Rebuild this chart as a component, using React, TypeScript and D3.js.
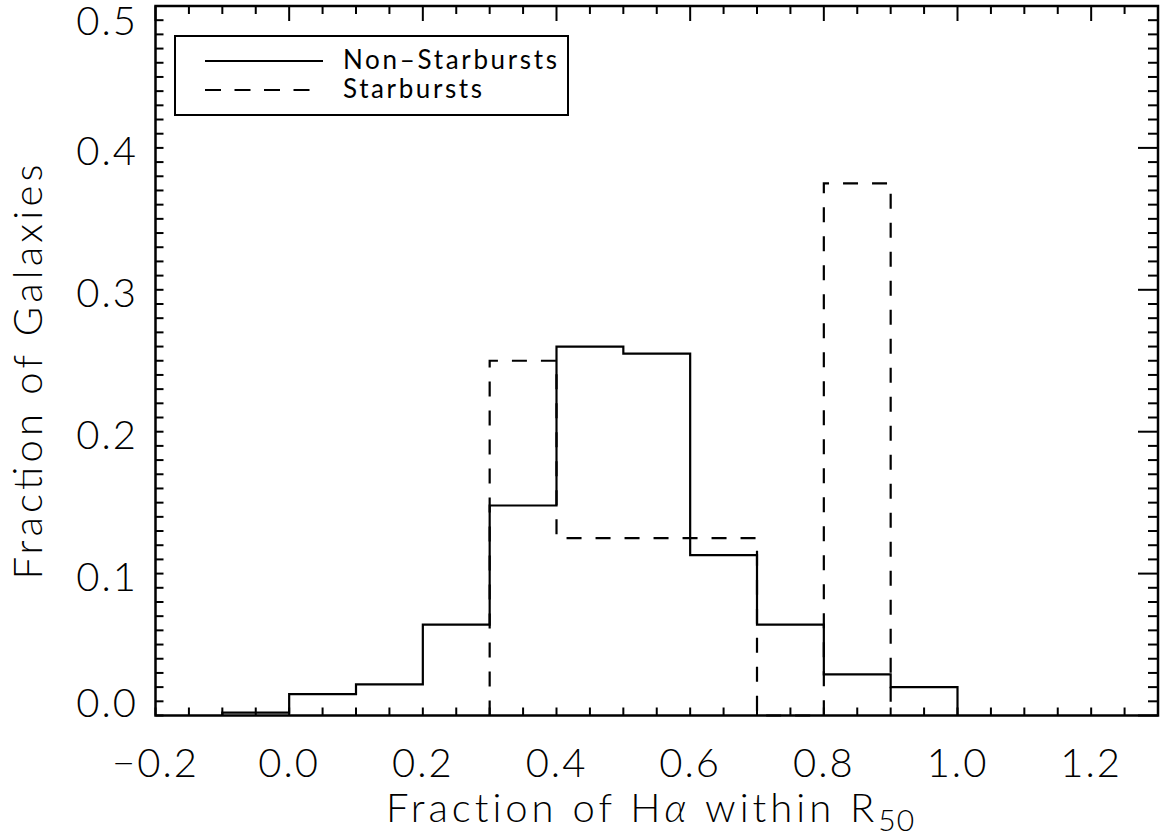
import React, { useEffect, useRef } from "react";
import * as d3 from "d3";

// histogram bins (left edges), width 0.1
const nonStarEdges = [-0.1, 0.0, 0.1, 0.2, 0.3, 0.4, 0.5, 0.6, 0.7, 0.8, 0.9];
const nonStarValues = [0.002, 0.015, 0.022, 0.064, 0.148, 0.26, 0.255, 0.113, 0.064, 0.029, 0.02];

const starEdges = [0.3, 0.4, 0.5, 0.6, 0.7, 0.8];
const starValues = [0.25, 0.125, 0.125, 0.125, 0, 0.375];

const xTicks = [-0.2, 0.0, 0.2, 0.4, 0.6, 0.8, 1.0, 1.2];
const yTicks = [0.0, 0.1, 0.2, 0.3, 0.4, 0.5];

const legendItems = [
  { label: "Non\u2013Starbursts", dash: null, width: 214 },
  { label: "Starbursts", dash: "16,13.5", width: 139 },
];

const FONT = "Lato, 'DejaVu Sans', sans-serif";

const App = () => {
  const ref = useRef<SVGSVGElement>(null);

  useEffect(() => {
    const width = 1165;
    const height = 838;
    const left = 155.5, right = 1158, top = 6, bottom = 715.5;
    const binW = 0.1;

    const svg = d3.select(ref.current);
    svg.selectAll("*").remove();
    svg.attr("width", width).attr("height", height);

    const x = d3.scaleLinear().domain([-0.2, 1.3]).range([left, right]);
    const y = d3.scaleLinear().domain([0, 0.5]).range([bottom, top]);

    const stepPoints = (edges: number[], vals: number[]) => {
      const pts: [number, number][] = [[edges[0], 0]];
      edges.forEach((e, i) => {
        pts.push([e, vals[i]]);
        pts.push([e + binW, vals[i]]);
      });
      pts.push([edges[edges.length - 1] + binW, 0]);
      return pts;
    };

    const line = d3.line<[number, number]>().x(d => x(d[0])).y(d => y(d[1]));

    // histograms
    svg.append("path").attr("d", line(stepPoints(nonStarEdges, nonStarValues)))
      .attr("fill", "none").attr("stroke", "#000").attr("stroke-width", 2.2);
    svg.append("path").attr("d", line(stepPoints(starEdges, starValues)))
      .attr("fill", "none").attr("stroke", "#000").attr("stroke-width", 2.2).attr("stroke-dasharray", "15,14");

    // ticks
    const ticks = svg.append("g").attr("stroke", "#000").attr("stroke-width", 2);
    const xMinor = d3.range(-0.2, 1.3001, 0.05).map(v => +v.toFixed(2));
    xMinor.forEach(v => {
      const major = xTicks.some(t => Math.abs(t - v) < 1e-6);
      ticks.append("line").attr("x1", x(v)).attr("x2", x(v)).attr("y1", bottom).attr("y2", bottom - 8);
      ticks.append("line").attr("x1", x(v)).attr("x2", x(v)).attr("y1", top).attr("y2", top + (major ? 15 : 8));
    });
    const yMinor = d3.range(0, 0.5001, 0.01).map(v => +v.toFixed(2));
    yMinor.forEach(v => {
      const major = yTicks.some(t => Math.abs(t - v) < 1e-6);
      ticks.append("line").attr("x1", left).attr("x2", left + 8).attr("y1", y(v)).attr("y2", y(v));
      ticks.append("line").attr("x1", right).attr("x2", right - (major ? 20 : 10)).attr("y1", y(v)).attr("y2", y(v));
    });

    // frame
    svg.append("rect").attr("x", left).attr("y", top).attr("width", right - left).attr("height", bottom - top)
      .attr("fill", "none").attr("stroke", "#000").attr("stroke-width", 2.5);

    // tick labels
    svg.append("g").selectAll("text").data(xTicks).join("text")
      .attr("x", d => x(d)).attr("y", 777).attr("text-anchor", "middle")
      .style("font-family", FONT).style("font-size", "40px").style("font-weight", 300).style("letter-spacing", "2px")
      .text(d => d3.format(".1f")(d).replace("-", "\u2212"));

    svg.append("g").selectAll("text").data(yTicks).join("text")
      .attr("x", 138).attr("y", d => Math.max(top + 14, Math.min(bottom - 13, y(d) + 3)) + 14.5)
      .attr("text-anchor", "end")
      .style("font-family", FONT).style("font-size", "40px").style("font-weight", 300).style("letter-spacing", "2px")
      .text(d => d3.format(".1f")(d));

    // axis titles
    svg.append("text").attr("transform", "translate(42,372) rotate(-90)").attr("text-anchor", "middle")
      .attr("textLength", 415).attr("lengthAdjust", "spacing")
      .style("font-family", FONT).style("font-size", "40px").style("font-weight", 300)
      .text("Fraction of Galaxies");

    const xt = svg.append("text").attr("x", 386).attr("y", 822)
      .style("font-family", FONT).style("font-size", "40px").style("font-weight", 300).style("letter-spacing", "4px");
    xt.append("tspan").text("Fraction of H");
    xt.append("tspan").style("font-style", "italic").text("\u03b1");
    xt.append("tspan").text(" within R");
    xt.append("tspan").attr("dy", 9).style("font-size", "30px").style("letter-spacing", "1px").text("50");

    // legend
    const legend = svg.append("g");
    legend.append("rect").attr("x", 175).attr("y", 36).attr("width", 393).attr("height", 79)
      .attr("fill", "#fff").attr("stroke", "#000").attr("stroke-width", 2);
    legendItems.forEach((d, i) => {
      const ly = 61 + i * 29;
      legend.append("line").attr("x1", 205).attr("x2", 323).attr("y1", ly).attr("y2", ly)
        .attr("stroke", "#000").attr("stroke-width", 2).attr("stroke-dasharray", d.dash);
      legend.append("text").attr("x", 343).attr("y", ly + 8)
        .attr("textLength", d.width).attr("lengthAdjust", "spacing")
        .style("font-family", FONT).style("font-size", "26px").style("font-weight", 400)
        .text(d.label);
    });
  }, []);

  return (
    <div>
      <svg ref={ref} style={{ position: "absolute", left: 0, top: 0 }}></svg>
    </div>
  );
};

export default App;
